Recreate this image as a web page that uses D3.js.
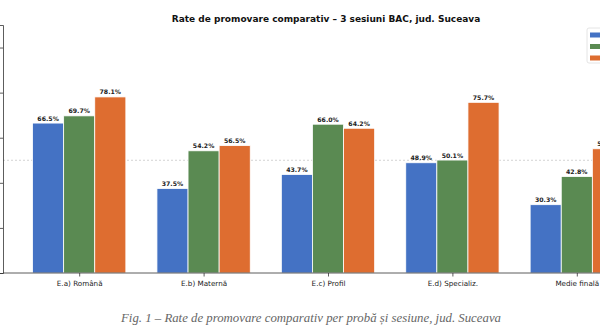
<!DOCTYPE html>
<html><head><meta charset="utf-8">
<script src="https://cdn.jsdelivr.net/npm/d3@7"></script>
<style>body{margin:0;background:#fff}svg{display:block}</style>
</head><body>
<svg id="c" width="600" height="334"></svg>
<script>
const categories = ["E.a) Română", "E.b) Maternă", "E.c) Profil", "E.d) Specializ.", "Medie finală"];
const seriesNames = ["Sesiunea 1", "Sesiunea 2", "Sesiunea 3"];
const sesiunea1 = [66.5, 37.5, 43.7, 48.9, 30.3];
const sesiunea2 = [69.7, 54.2, 66.0, 50.1, 42.8];
const sesiunea3 = [78.1, 56.5, 64.2, 75.7, 55.1];
const yTicks = [0, 20, 40, 60, 80, 100];
const colors = ["#4472C4", "#5A8A52", "#DE6D30"];
const title = "Rate de promovare comparativ – 3 sesiuni BAC, jud. Suceava";
const caption = "Fig. 1 – Rate de promovare comparativ per probă și sesiune, jud. Suceava";

const series = [sesiunea1, sesiunea2, sesiunea3];
const svg = d3.select("#c");
const L = 3, R = 653, T = 25, B = 273;
const barW = 0.25;
const x = d3.scaleLinear().domain([-0.6125, categories.length - 1 + 0.6125]).range([L, R]);
const y = d3.scaleLinear().domain([0, 110]).range([B, T]);

// reference line at 50%
svg.append("line").attr("x1", L).attr("x2", R).attr("y1", y(50)).attr("y2", y(50))
  .attr("stroke", "#c8c8c8").attr("stroke-width", 0.8).attr("stroke-dasharray", "2,2");

// bars
series.forEach((vals, si) => {
  const off = (si - 1) * barW;
  const g = svg.append("g");
  g.selectAll("rect").data(vals).enter().append("rect")
    .attr("x", (d, i) => x(i + off - barW / 2))
    .attr("width", x(barW) - x(0))
    .attr("y", d => y(d))
    .attr("height", d => y(0) - y(d))
    .attr("fill", colors[si])
    .attr("stroke", "#fff").attr("stroke-width", 0.8);
  g.selectAll("text").data(vals).enter().append("text")
    .attr("x", (d, i) => x(i + off))
    .attr("y", d => y(d) - 2.5)
    .attr("text-anchor", "middle")
    .attr("font-family", "DejaVu Sans").attr("font-weight", "bold").attr("font-size", 6.2)
    .attr("fill", "#222")
    .text(d => d.toFixed(1) + "%");
});

// axes (tick labels sit outside the visible crop, as in the reference)
const yAxis = d3.axisLeft(y).tickValues(yTicks).tickSize(3.5).tickFormat("");
const ga = svg.append("g").attr("transform", `translate(${L},0)`).call(yAxis);
ga.select(".domain").attr("stroke", "#333").attr("stroke-width", 0.8);
ga.selectAll(".tick line").attr("stroke", "#333").attr("stroke-width", 0.8);

const xAxis = d3.axisBottom(x).tickValues(d3.range(categories.length)).tickSize(3.5).tickPadding(4)
  .tickFormat(i => categories[i]);
const gx = svg.append("g").attr("transform", `translate(0,${B})`).call(xAxis);
gx.select(".domain").attr("stroke", "#333").attr("stroke-width", 0.8).attr("d", `M${L},0H${R}`);
gx.selectAll(".tick line").attr("stroke", "#333").attr("stroke-width", 0.8);
gx.selectAll("text").attr("font-family", "DejaVu Sans").attr("font-size", 7.2).attr("fill", "#222");

// title
svg.append("text").attr("x", 326).attr("y", 22).attr("text-anchor", "middle")
  .attr("font-family", "DejaVu Sans").attr("font-weight", "bold").attr("font-size", 9).attr("fill", "#111")
  .text(title);

// legend (labels fall outside the crop in the reference)
const lg = svg.append("g").attr("transform", "translate(587,28)");
lg.append("rect").attr("width", 80).attr("height", 35).attr("rx", 2)
  .attr("fill", "#fff").attr("stroke", "#ddd").attr("stroke-width", 0.8);
seriesNames.forEach((n, i) => {
  lg.append("rect").attr("x", 3).attr("y", 4.5 + i * 11.5).attr("width", 14).attr("height", 5).attr("fill", colors[i]);
});

// caption
svg.append("text").attr("x", 311).attr("y", 322).attr("text-anchor", "middle")
  .attr("font-family", "Liberation Serif").attr("font-style", "italic").attr("font-size", 12.8)
  .attr("fill", "#666").text(caption);
</script>
</body></html>
